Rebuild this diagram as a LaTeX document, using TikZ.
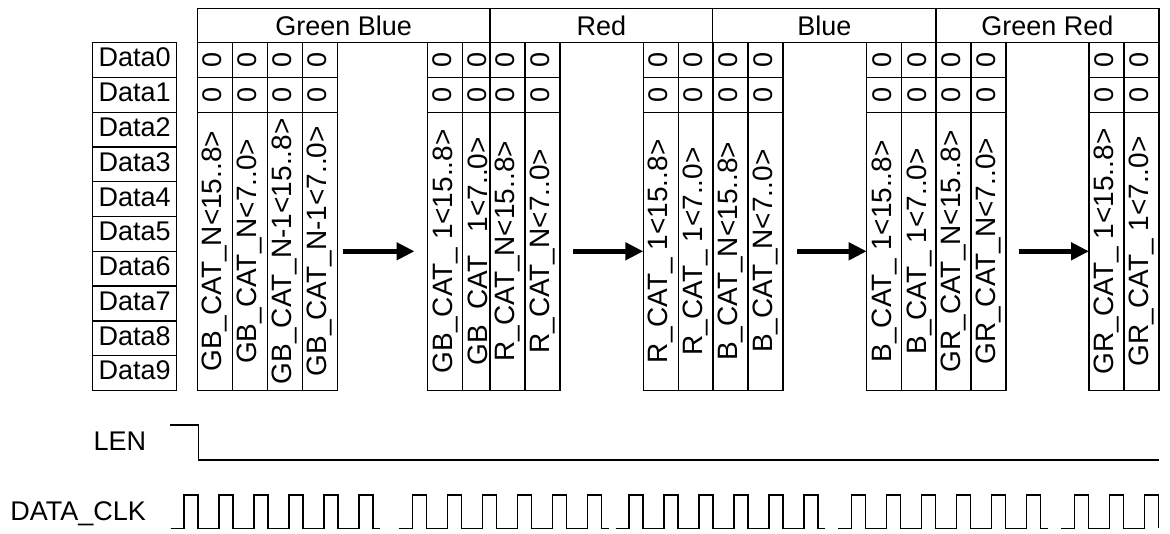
\documentclass[tikz,border=0pt]{standalone}
\usepackage{fontspec}
\setmainfont{Liberation Sans}
\usetikzlibrary{arrows.meta}
\begin{document}
\begin{tikzpicture}[x=1pt,y=-1pt,line width=1.4pt,
  font=\fontsize{27}{30}\selectfont,
  cell/.style={draw,fill=white,inner sep=0pt,outer sep=0pt,minimum width=35pt},
  rottext/.style={rotate=90,inner sep=0pt,text height=19.4pt,text depth=5.7pt,anchor=center},
  longtext/.style={rottext,font=\fontsize{28}{30}\selectfont,text height=20pt,text depth=5.9pt},
  dlabel/.style={draw,inner sep=0pt,outer sep=0pt,minimum width=84pt,minimum height=34.77pt,text height=19.4pt,text depth=5.7pt},
  hdr/.style={draw,inner sep=0pt,outer sep=0pt,minimum height=34.4pt,text height=19.4pt,text depth=0pt},
  bigarrow/.style={line width=5pt,-{Triangle[length=18pt,width=17pt]}},
  wave/.style={line width=1.2pt,line join=miter}]
\useasboundingbox (0,0) rectangle (1170,533);

% header
\node[hdr,minimum width=292.7pt] (hgb) at (343.65,25.5) {Green Blue};
\node[hdr,minimum width=222.7pt] (hr) at (601.35,25.5) {Red};
\node[hdr,minimum width=223.3pt] (hb) at (824.35,25.5) {Blue};
\node[hdr,minimum width=223pt] (hgr) at (1047.5,25.5) {Green Red};

% data labels
\foreach \i in {0,...,9}
  \node[dlabel] (d\i) at (134.7,{60.085+34.77*\i}) {Data\i};

% columns
\foreach \n/\x/\t in {
  g1/197.3/GB\_CAT\_N<15..8>,
  g2/232.3/GB\_CAT\_N<7..0>,
  g3/267.3/GB\_CAT\_N-1<15..8>,
  g4/302.3/GB\_CAT\_N-1<7..0>,
  g5/427.5/GB\_CAT\_ 1<15..8>,
  g6/462.5/GB\_CAT\_ 1<7..0>,
  r1/490/R\_CAT\_N<15..8>,
  r2/525/R\_CAT\_N<7..0>,
  r3/643.3/R\_CAT\_ 1<15..8>,
  r4/678.3/R\_CAT\_ 1<7..0>,
  b1/713/B\_CAT\_N<15..8>,
  b2/748/B\_CAT\_N<7..0>,
  b3/866.7/B\_CAT\_ 1<15..8>,
  b4/901.7/B\_CAT\_ 1<7..0>,
  q1/936/GR\_CAT\_N<15..8>,
  q2/971/GR\_CAT\_N<7..0>,
  q3/1089/GR\_CAT\_ 1<15..8>,
  q4/1124/GR\_CAT\_ 1<7..0>}{
  \node[cell,minimum height=34.8pt] (\n a) at ({\x+17.5},60.1) {};
  \node[rottext] at (\n a) {0};
  \node[cell,minimum height=34.7pt] (\n b) at ({\x+17.5},94.85) {};
  \node[rottext] at (\n b) {0};
  \node[cell,minimum height=278.2pt] (\n) at ({\x+17.5},251.3) {};
  \node[longtext] at (\n) {\t};
}

% arrows
\draw[bigarrow] ([xshift=6pt]g4.east) -- ([xshift=-13pt]g5.west);
\draw[bigarrow] ([xshift=13pt]r2.east) -- (r3.west);
\draw[bigarrow] ([xshift=14pt]b2.east) -- (b3.west);
\draw[bigarrow] ([xshift=13pt]q2.east) -- (q3.west);

% signals
\node[anchor=base west,inner sep=0pt] (len) at (93,450.7) {LEN};
\node[anchor=base west,inner sep=0pt] (clk) at (9.7,520) {DATA\_CLK};

\draw[wave] (170,425) -- (198.3,425) -- (198.3,460) -- (1159.3,460);

\foreach \s/\m/\tl in {170.5/6/7,399.3/6/7,615.5/6/7,838.3/6/7,1061/3/0}{
  \draw[wave] (\s,528.3)
    \foreach \k in {1,...,\m}{
      -- ({\s+13.5+35*(\k-1)},528.3) -- ++(0,-33.3) -- ++(14,0) -- ++(0,33.3)}
    -- ++(\tl,0);
}
\end{tikzpicture}
\end{document}
